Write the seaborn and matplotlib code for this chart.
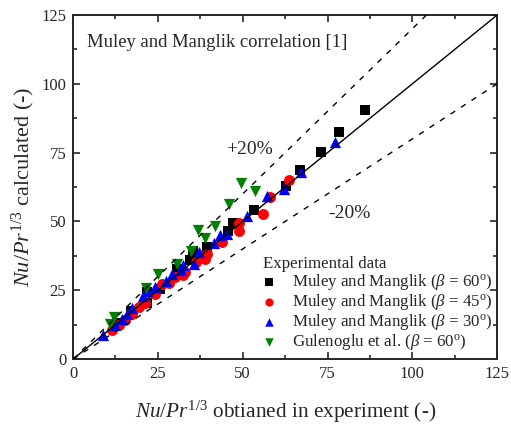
import numpy as np
import pandas as pd
import matplotlib
matplotlib.use("Agg")
import matplotlib.pyplot as plt
from matplotlib.ticker import MultipleLocator
import seaborn as sns

# Nu/Pr^(1/3): experimental (x) vs. correlation (y)
mm60_x = [86.0, 78.5, 73.1, 67.0, 62.8, 53.4, 47.0, 45.6, 39.5, 35.2, 34.5, 30.7, 25.7, 21.9, 21.7, 17.0, 13.0]
mm60_y = [90.6, 82.4, 75.1, 68.8, 63.0, 54.1, 49.4, 46.5, 40.6, 39.3, 36.1, 32.7, 25.3, 24.5, 20.3, 17.5, 13.0]

mm45_x = [63.5, 58.1, 56.1, 49.0, 48.8, 43.9, 39.6, 38.9, 36.3, 33.0, 32.5, 30.1, 28.4, 26.2, 24.0, 21.2, 19.3, 17.5, 15.3, 13.4, 11.5]
mm45_y = [65.0, 58.8, 52.8, 49.5, 46.5, 42.5, 38.2, 36.5, 35.3, 31.5, 30.4, 29.8, 27.6, 27.4, 23.5, 20.2, 18.9, 16.5, 14.1, 12.3, 10.5]

mm30_x = [77.3, 67.3, 62.2, 57.3, 51.2, 45.3, 43.4, 41.4, 37.0, 35.7, 32.5, 31.9, 29.1, 27.3, 24.2, 21.7, 20.7, 17.3, 16.0, 14.4, 12.5, 8.9]
mm30_y = [79.0, 67.8, 61.8, 59.2, 52.0, 45.3, 44.9, 42.1, 38.9, 34.6, 34.0, 32.2, 31.0, 28.5, 26.2, 24.7, 22.8, 18.4, 16.5, 14.7, 12.5, 8.7]

gul60_x = [10.9, 12.2, 21.5, 24.9, 30.6, 34.7, 36.8, 38.9, 41.9, 46.1, 49.5, 53.7]
gul60_y = [12.6, 15.3, 25.8, 30.8, 34.7, 39.2, 47.0, 44.0, 48.3, 56.4, 63.9, 61.0]

series = [
    (r"Muley and Manglik ($\beta$ = 60$^{\rm o}$)", mm60_x, mm60_y, "s", "#000000", 52),
    (r"Muley and Manglik ($\beta$ = 45$^{\rm o}$)", mm45_x, mm45_y, "o", "#FF0000", 62),
    (r"Muley and Manglik ($\beta$ = 30$^{\rm o}$)", mm30_x, mm30_y, "^", "#0000FF", 66),
    (r"Gulenoglu et al. ($\beta$ = 60$^{\rm o}$)", gul60_x, gul60_y, "v", "#008000", 66),
]

sns.set_style("ticks")
plt.rcParams["font.family"] = ["Liberation Serif", "DejaVu Serif"]
plt.rcParams["mathtext.fontset"] = "custom"
plt.rcParams["mathtext.rm"] = "Liberation Serif"
plt.rcParams["mathtext.it"] = "Liberation Serif:italic"
plt.rcParams["mathtext.bf"] = "Liberation Serif:bold"

fig = plt.figure(figsize=(5.11, 4.28), dpi=100)
ax = fig.add_axes([0.143, 0.161, 0.830, 0.804])

for label, xs, ys, marker, color, size in series:
    df = pd.DataFrame({"exp": xs, "calc": ys})
    sns.scatterplot(data=df, x="exp", y="calc", marker=marker, color=color,
                    s=size, linewidth=0, ax=ax, label=label, zorder=2)

# parity line and +/-20 % bands
ref = np.array([0.0, 125.0])
ax.plot(ref, ref, color="black", lw=1.0, zorder=3)
ax.plot(ref, 1.2 * ref, color="black", lw=1.0, ls=(0, (4, 5)), zorder=3)
ax.plot(ref, 0.8 * ref, color="black", lw=1.0, ls=(0, (4, 5)), zorder=3)

ax.set_xlim(0, 125)
ax.set_ylim(0, 125)
ax.xaxis.set_major_locator(MultipleLocator(25))
ax.yaxis.set_major_locator(MultipleLocator(25))
ax.xaxis.set_minor_locator(MultipleLocator(12.5))
ax.yaxis.set_minor_locator(MultipleLocator(12.5))
ax.tick_params(which="both", direction="in", top=True, right=True,
               width=1.2, labelsize=12, pad=5)
ax.tick_params(which="major", length=5)
ax.tick_params(which="minor", length=3)
for sp in ax.spines.values():
    sp.set_linewidth(1.4)

ax.set_xlabel(r"$Nu/Pr^{1/3}$ obtianed in experiment (-)", fontsize=15.3, labelpad=12)
ax.set_ylabel(r"$Nu/Pr^{1/3}$ calculated (-)", fontsize=16, labelpad=3)

ax.text(4.2, 115, "Muley and Manglik correlation [1]", fontsize=13.4, va="center", ha="left")
ax.text(45.2, 76, "+20%", fontsize=14, va="center", ha="left")
ax.text(75.3, 52.8, "-20%", fontsize=14, va="center", ha="left")

leg = ax.legend(loc="lower right", bbox_to_anchor=(1.008, -0.005), frameon=False,
                title="Experimental data", title_fontsize=12.2, fontsize=12.2,
                alignment="left", handlelength=0.7, handletextpad=1.0,
                labelspacing=0.0, borderaxespad=0.1, markerscale=0.75)

fig.savefig("out.png", dpi=100)
